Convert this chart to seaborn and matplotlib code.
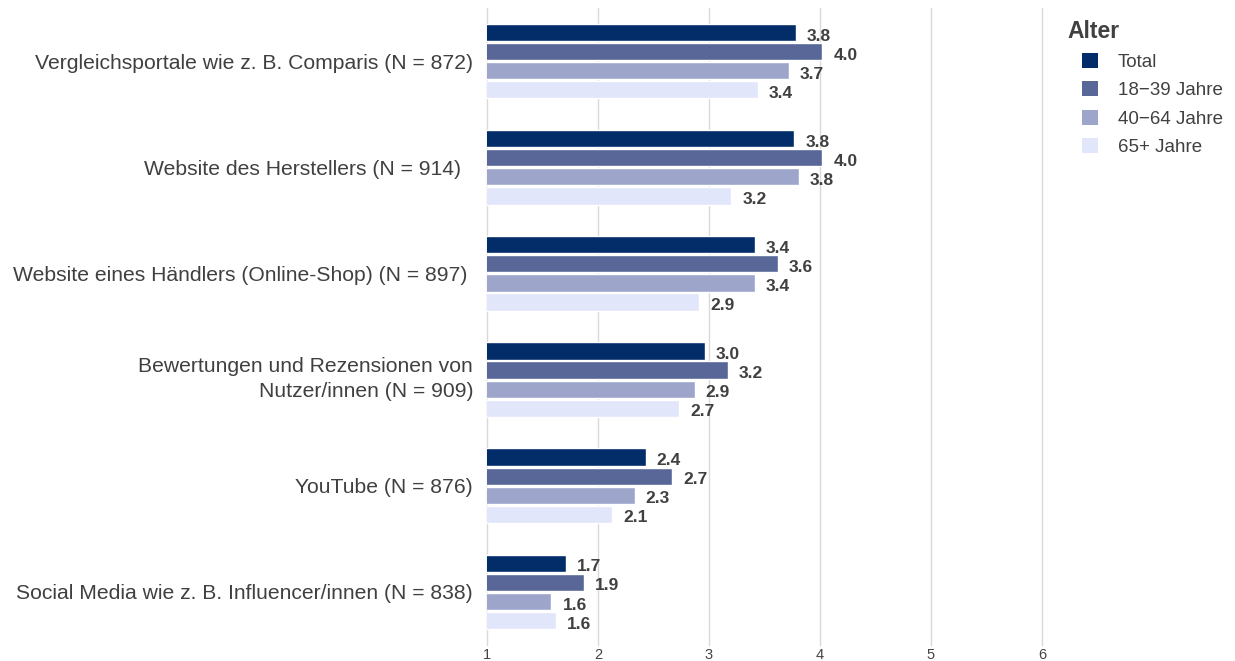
import matplotlib
matplotlib.use("Agg")
import matplotlib.pyplot as plt
from matplotlib.patches import Patch
from matplotlib.transforms import ScaledTranslation
import seaborn as sns
import pandas as pd

# Survey: how useful are these information sources (mean score, 1-6), by age group
categories = [
    "Vergleichsportale wie z. B. Comparis (N = 872)",
    "Website des Herstellers (N = 914)  ",
    "Website eines Händlers (Online-Shop) (N = 897) ",
    "Bewertungen und Rezensionen von\nNutzer/innen (N = 909)",
    "YouTube (N = 876)",
    "Social Media wie z. B. Influencer/innen (N = 838)",
]
groups = ["Total", "18\u221239 Jahre", "40\u221264 Jahre", "65+ Jahre"]
total = [3.78, 3.77, 3.41, 2.96, 2.43, 1.71]
age_18_39 = [4.02, 4.02, 3.62, 3.17, 2.67, 1.87]
age_40_64 = [3.72, 3.81, 3.41, 2.87, 2.33, 1.58]
age_65_plus = [3.44, 3.20, 2.91, 2.73, 2.13, 1.62]
colors = ["#022d69", "#596798", "#9da5cb", "#e1e6fb"]

df = pd.DataFrame({
    "Quelle": categories * 4,
    "Alter": [g for g in groups for _ in categories],
    "Wert": total + age_18_39 + age_40_64 + age_65_plus,
})

sns.set_theme(style="white")
plt.rcParams["font.family"] = ["Liberation Sans", "DejaVu Sans"]

fig = plt.figure(figsize=(12.35, 6.61), dpi=100)
ax = fig.add_axes([487 / 1235, 16 / 661, (1042 - 487) / 1235, (645 - 8) / 661])

sns.barplot(
    data=df, x="Wert", y="Quelle", hue="Alter", order=categories,
    hue_order=groups, palette=colors, orient="h", width=0.72, gap=0.1,
    saturation=1, ax=ax, legend=False, errorbar=None,
)

# Value labels just right of each bar, nudged slightly below the bar centre
for cont in ax.containers:
    labels = ax.bar_label(cont, fmt="%.1f", padding=8, fontsize=12.5,
                          fontweight="bold", color="#404040")
    for t in labels:
        t.set_va("center_baseline")
        t.xyann = (8, -1.5)

ax.set_xlim(1, 6)
ax.set_ylim(5.5, -0.5)
ax.set_xticks([1, 2, 3, 4, 5, 6])
ax.set_xticklabels(["1", "2", "3", "4", "5", "6"])
ax.xaxis.grid(True, color="#d9d9d9", linewidth=1)
for gl in ax.get_xgridlines():
    gl.set_clip_on(False)
ax.set_axisbelow(True)
for s in ax.spines.values():
    s.set_visible(False)
ax.set_xlabel("")
ax.set_ylabel("")
ax.tick_params(axis="x", length=0, pad=2.5, labelsize=10.5, labelcolor="#444444")
ax.tick_params(axis="y", length=0, pad=10, labelsize=15.2, labelcolor="#404040")
for lbl in ax.get_yticklabels():
    lbl.set_horizontalalignment("right")
    lbl.set_multialignment("right")
    lbl.set_linespacing(1.45)
    if "\n" in lbl.get_text():
        # keep the two-line label centred on its bar group
        lbl.set_transform(lbl.get_transform()
                          + ScaledTranslation(0, 6 / 100, fig.dpi_scale_trans))

# Legend placed to the right of the plot area
handles = [Patch(facecolor=c, edgecolor="none") for c in colors]
fig.text(1067 / 1235, 1 - 31 / 661, "Alter", fontsize=16.5, fontweight="bold",
         color="#404040", va="center", ha="left")
fig.legend(
    handles, groups, loc="upper left",
    bbox_to_anchor=(1082 / 1235, 1 - 53 / 661), frameon=False,
    fontsize=13.5, handlelength=0.85, handleheight=0.85, handletextpad=1.05,
    labelspacing=0.56, borderpad=0, borderaxespad=0, labelcolor="#404040",
)

fig.savefig("out.png", dpi=100)
